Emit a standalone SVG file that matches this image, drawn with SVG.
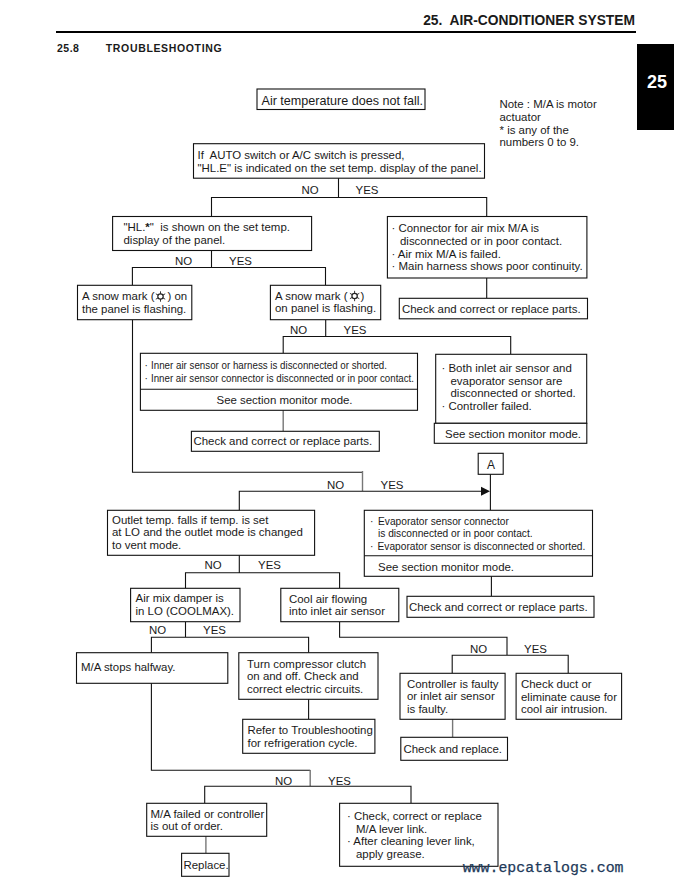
<svg xmlns="http://www.w3.org/2000/svg" width="674" height="884" viewBox="0 0 674 884">
<style>
text{font-family:"Liberation Sans",Arial,sans-serif;font-size:11.45px;fill:#1a1a1a}
.b{fill:#fff;stroke:#111;stroke-width:1.1}
.c path,.c line{fill:none;stroke:#111;stroke-width:1.1}
.g{stroke:#777!important;stroke-width:1.4!important}
.s{font-size:10.2px}
.h{font-weight:bold}
.t{font-size:10.5px;font-weight:bold}
.i{stroke:#222;fill:none}
</style>
<defs>
<g id="snow"><circle class="i" r="2.7" stroke-width="1.2"/><path class="i" stroke-width=".9" d="M0-5.200V-2.600M0 5.200V2.600M-4.700-2.700L-2.200-1.300M4.700-2.700L2.200-1.300M-4.700 2.700L-2.200 1.300M4.700 2.700L2.200 1.300"/></g>
</defs>
<rect width="674" height="884" fill="#fff"/>
<g id="header">
<text class="h" x="635" y="25" text-anchor="end" style="font-size:13.8px" xml:space="preserve">25.  AIR-CONDITIONER SYSTEM</text>
<rect x="56" y="31" width="580" height="2" fill="#000"/>
<text class="t" x="57" y="52" style="letter-spacing:.5px">25.8</text>
<text class="t" x="105.800" y="52" style="letter-spacing:.65px">TROUBLESHOOTING</text>
<rect x="637" y="44" width="37" height="86" fill="#000"/>
<text class="h" x="657" y="88" text-anchor="middle" style="font-size:18px;fill:#fff">25</text>
</g>
<g id="note">
<text x="499.500" y="108">Note : M/A is motor</text>
<text x="499.500" y="121">actuator</text>
<text x="499.500" y="134">* is any of the</text>
<text x="499.500" y="146">numbers 0 to 9.</text>
</g>
<g id="connectors" class="c">
<path d="M338.500 178V197.500M211.500 216V197.500H486.700V216"/>
<path d="M486.700 278V298"/>
<path d="M211.500 250V267.500M132.400 285V267.500H325.500V285"/>
<path d="M325.700 320V336.500M283.200 353V336.500H510.700V354"/>
<path class="g" d="M283.200 410V431"/>
<path d="M132.500 320V472.300H362.500"/>
<path class="g" d="M362.500 471V491"/>
<path d="M239.300 510V491.300H484"/>
<path d="M490.400 474V510"/>
<polygon points="481,486.800 490,491.300 481,495.800" fill="#111"/>
<path d="M239.300 555V572.700M185.500 588V572.700H339.600V588"/>
<path d="M491.400 576V596"/>
<path d="M185.500 622V637.300M151.400 652.700V637.300H308.600V652.700"/>
<path d="M308.600 699V719"/>
<path d="M339.600 622V637.300H507V655.300M452.200 673V655.300H568.200V673"/>
<path class="g" d="M452.600 719V737"/>
<path d="M151.400 683V770.300H310.200"/>
<path class="g" d="M310.200 770V786"/>
<path d="M204.700 803V786.300H411V803"/>
<path class="g" d="M205.900 836V853"/>
</g>
<g id="labels">
<text x="301.500" y="194">NO</text><text x="355.500" y="194">YES</text>
<text x="175" y="265">NO</text><text x="229" y="265">YES</text>
<text x="290" y="334">NO</text><text x="343.500" y="334">YES</text>
<text x="327" y="489">NO</text><text x="380.500" y="489">YES</text>
<text x="204.500" y="569">NO</text><text x="258" y="569">YES</text>
<text x="149" y="634">NO</text><text x="203" y="634">YES</text>
<text x="470" y="653">NO</text><text x="524" y="653">YES</text>
<text x="275" y="785">NO</text><text x="328" y="785">YES</text>
</g>
<g id="n1"><rect class="b" x="257" y="89" width="168" height="20.500"/><text x="261.500" y="105" style="font-size:12.58px">Air temperature does not fall.</text></g>
<g id="n2"><rect class="b" x="193.500" y="143.700" width="291" height="34.500"/><text x="197.500" y="159" xml:space="preserve">If  AUTO switch or A/C switch is pressed,</text><text x="197.500" y="172">"HL.E" is indicated on the set temp. display of the panel.</text></g>
<g id="n3"><rect class="b" x="112.600" y="216.500" width="199" height="34"/><text x="123.500" y="231" xml:space="preserve">"HL.<tspan font-weight="bold">*</tspan>"  is shown on the set temp.</text><text x="123.500" y="244">display of the panel.</text></g>
<g id="n4"><rect class="b" x="387.400" y="216.500" width="199.500" height="61.500"/><text x="391.500" y="232">· Connector for air mix M/A is</text><text x="400" y="245">disconnected or in poor contact.</text><text x="391.500" y="258">· Air mix M/A is failed.</text><text x="391.500" y="270">· Main harness shows poor continuity.</text></g>
<g id="n5"><rect class="b" x="399.300" y="298.300" width="188.200" height="20.500"/><text x="402" y="313">Check and correct or replace parts.</text></g>
<g id="n6"><rect class="b" x="77.500" y="285.300" width="114.300" height="34.400"/><text x="82" y="300">A snow mark (</text><use href="#snow" x="160.500" y="296.500"/><text x="167.500" y="300">) on</text><text x="82" y="313">the panel is flashing.</text></g>
<g id="n7"><rect class="b" x="270.400" y="285.300" width="110.300" height="34.400"/><text x="275" y="300">A snow mark (</text><use href="#snow" x="354.600" y="296"/><text x="360.500" y="300">)</text><text x="275" y="312">on panel is flashing.</text></g>
<g id="n8"><rect class="b" x="140.400" y="353.300" width="277.100" height="57"/><path class="b" d="M140.400 389.300H417.500"/><text class="s" x="144.500" y="369">·</text><text class="s" x="151" y="369" textLength="236" lengthAdjust="spacingAndGlyphs" style="font-size:10.500px">Inner air sensor or harness is disconnected or shorted.</text><text class="s" x="144.500" y="382">·</text><text class="s" x="151" y="382" textLength="263" lengthAdjust="spacingAndGlyphs" style="font-size:10.500px">Inner air sensor connector is disconnected or in poor contact.</text><text x="216.500" y="404">See section monitor mode.</text></g>
<g id="n9"><rect class="b" x="435.700" y="354.300" width="151" height="69"/><rect class="b" x="434.300" y="423.300" width="152.500" height="20"/><text x="441.500" y="372">· Both inlet air sensor and</text><text x="450.500" y="385">evaporator sensor are</text><text x="450.500" y="397">disconnected or shorted.</text><text x="441.500" y="410">· Controller failed.</text><text x="445" y="438">See section monitor mode.</text></g>
<g id="n10"><rect class="b" x="191.400" y="431.300" width="187.900" height="20"/><text x="193.500" y="445">Check and correct or replace parts.</text></g>
<g id="n11"><rect class="b" x="478.200" y="453.300" width="25" height="21"/><text x="491" y="469" text-anchor="middle" style="font-size:12px">A</text></g>
<g id="n12"><rect class="b" x="107.500" y="510.300" width="207.100" height="45"/><text x="112" y="524">Outlet temp. falls if temp. is set</text><text x="112" y="536">at LO and the outlet mode is changed</text><text x="112" y="549">to vent mode.</text></g>
<g id="n13"><rect class="b" x="364.300" y="510.300" width="228.200" height="66"/><path class="b" d="M364.300 555.700H592.500"/><text class="s" x="370" y="525">· </text><text class="s" x="378" y="525">Evaporator sensor connector</text><text class="s" x="378" y="537">is disconnected or in poor contact.</text><text class="s" x="370" y="550">·</text><text class="s" x="377.500" y="550">Evaporator sensor is disconnected or shorted.</text><text x="378" y="571">See section monitor mode.</text></g>
<g id="n14"><rect class="b" x="130.600" y="588.300" width="109.400" height="33.400"/><text x="135.500" y="602">Air mix damper is</text><text x="135.500" y="615">in LO (COOLMAX).</text></g>
<g id="n15"><rect class="b" x="280.800" y="588.300" width="118" height="33.400"/><text x="289" y="603">Cool air flowing</text><text x="289" y="615">into inlet air sensor</text></g>
<g id="n16"><rect class="b" x="407" y="596.300" width="187" height="21"/><text x="409" y="611">Check and correct or replace parts.</text></g>
<g id="n17"><rect class="b" x="76.500" y="652.700" width="151.300" height="30.600"/><text x="81" y="671">M/A stops halfway.</text></g>
<g id="n18"><rect class="b" x="238.800" y="652.700" width="139.200" height="46.600"/><text x="247" y="668">Turn compressor clutch</text><text x="247" y="680">on and off. Check and</text><text x="247" y="693">correct electric circuits.</text></g>
<g id="n19"><rect class="b" x="242.700" y="719.300" width="132.200" height="34"/><text x="247.500" y="734">Refer to Troubleshooting</text><text x="247.500" y="747">for refrigeration cycle.</text></g>
<g id="n20"><rect class="b" x="400" y="673.300" width="105.100" height="46"/><text x="407" y="688">Controller is faulty</text><text x="407" y="700">or inlet air sensor</text><text x="407" y="713">is faulty.</text></g>
<g id="n21"><rect class="b" x="516.100" y="673.300" width="105.500" height="46"/><text x="521" y="688">Check duct or</text><text x="521" y="701">eliminate cause for</text><text x="521" y="713">cool air intrusion.</text></g>
<g id="n22"><rect class="b" x="400.800" y="737.300" width="106.700" height="23"/><text x="403.500" y="753">Check and replace.</text></g>
<g id="n23"><rect class="b" x="146.700" y="803.300" width="120" height="33"/><text x="150.500" y="818">M/A failed or controller</text><text x="150.500" y="830">is out of order.</text></g>
<g id="n24"><rect class="b" x="339.600" y="803.300" width="158.400" height="63"/><text x="347" y="820">· Check, correct or replace</text><text x="356" y="833">M/A lever link.</text><text x="347" y="845">· After cleaning lever link,</text><text x="356" y="858">apply grease.</text></g>
<g id="n25"><rect class="b" x="181.600" y="853.300" width="47.400" height="23"/><text x="183.500" y="869">Replace.</text></g>
<text x="462.700" y="872" style="font-family:'Liberation Mono',monospace;font-size:14.900px;fill:#1e3a5a;stroke:#1e3a5a;stroke-width:.25">www.epcatalogs.com</text>
</svg>
